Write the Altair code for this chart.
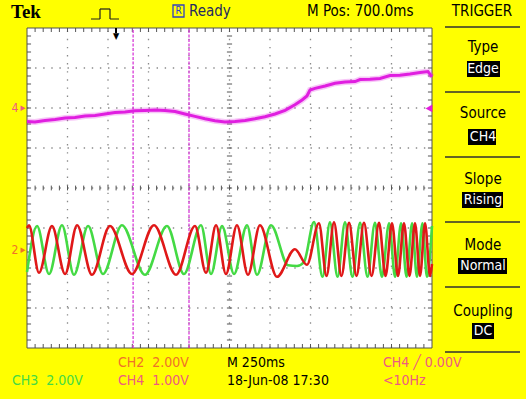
import altair as alt
import pandas as pd

# Horizontal axis: ms from the left edge of the graticule (M 250 ms/div, 10 div)
# Vertical axis: screen divisions (8 div, centre = 0)

# CH4 (magenta) slow signal
ch4_t = [0, 49, 111, 173, 235, 296, 358, 420, 481, 543, 605, 667, 728, 790, 852,
         914, 975, 1037, 1099, 1160, 1222, 1284, 1346, 1407, 1469, 1531, 1593, 1654,
         1698, 1728, 1747, 1778, 1840, 1901, 1963, 2025, 2056, 2117, 2179, 2241, 2302,
         2364, 2426, 2475, 2500]
ch4_v = [1.66, 1.65, 1.69, 1.71, 1.75, 1.76, 1.80, 1.81, 1.85, 1.89, 1.90, 1.93, 1.94,
         1.95, 1.94, 1.91, 1.85, 1.79, 1.73, 1.68, 1.65, 1.66, 1.69, 1.73, 1.78, 1.85,
         1.94, 2.08, 2.20, 2.30, 2.45, 2.49, 2.55, 2.62, 2.65, 2.66, 2.71, 2.72, 2.74,
         2.81, 2.82, 2.85, 2.89, 2.91, 2.78]

# CH2 (red) turning points
ch2_t = [0, 12, 74, 154, 235, 309, 401, 512, 648, 784, 920, 1037, 1105, 1167, 1228,
         1296, 1364, 1438, 1543, 1654, 1728, 1802, 1849, 1895, 1941, 1988, 2034, 2080,
         2127, 2173, 2213, 2253, 2290, 2327, 2361, 2395, 2426, 2457, 2488, 2500]
ch2_v = [-1.00, -0.93, -2.12, -0.95, -2.15, -0.93, -2.17, -0.95, -2.15, -0.93, -2.17,
         -0.95, -2.12, -0.93, -2.15, -0.93, -2.17, -0.93, -2.22, -1.53, -1.92, -0.88,
         -2.20, -0.86, -2.20, -0.87, -2.20, -0.87, -2.20, -0.87, -2.20, -0.88, -2.20,
         -0.88, -2.20, -0.88, -2.20, -0.88, -2.20, -1.90]

# CH3 (green) turning points
ch3_t = [0, 62, 136, 216, 290, 377, 469, 586, 728, 864, 969, 1074, 1136, 1204, 1278,
         1358, 1420, 1506, 1611, 1667, 1710, 1772, 1824, 1870, 1917, 1963, 2009, 2056,
         2102, 2148, 2191, 2235, 2272, 2309, 2343, 2377, 2407, 2441, 2469, 2500]
ch3_v = [-2.10, -0.95, -2.15, -0.93, -2.17, -0.95, -2.15, -0.93, -2.17, -0.95, -2.15,
         -0.93, -2.15, -0.95, -2.15, -0.93, -2.17, -0.93, -1.93, -1.95, -1.85, -0.85,
         -2.22, -0.86, -2.22, -0.86, -2.22, -0.87, -2.22, -0.87, -2.22, -0.88, -2.22,
         -0.88, -2.22, -0.88, -2.22, -0.88, -2.22, -0.95]

# cursor positions (ms)
cursor_t = [655, 1000]

NARROW = "'Liberation Sans Narrow', 'DejaVu Sans Condensed', 'Arial Narrow', sans-serif"
NB = "\u00a0"
YELLOW = "#FFFF00"
MAGENTA = "#E01EE0"
RED = "#E01818"
GREEN = "#44DA44"
ORANGE = "#F07228"
PINK = "#EE5A80"

xs = alt.Scale(domain=[0, 2500], range=[27, 432], nice=False, zero=False)
ys = alt.Scale(domain=[-4, 4], range=[348, 28], nice=False, zero=False)


def X(f):
    return alt.X(f, type="quantitative", scale=xs, axis=None)


def Y(f):
    return alt.Y(f, type="quantitative", scale=ys, axis=None)


def segs(df, color, width=1.0, dash=None):
    kw = dict(color=color, strokeWidth=width)
    if dash:
        kw["strokeDash"] = dash
    return alt.Chart(df).mark_rule(**kw).encode(
        x=X("x0"), x2="x1", y=Y("y0"), y2="y1")


# screen
screen = pd.DataFrame({"x0": [0], "x1": [2500], "y0": [-4], "y1": [4]})
screen_rect = alt.Chart(screen).mark_rect(color="white").encode(
    x=X("x0"), x2="x1", y=Y("y0"), y2="y1")
frame = alt.Chart(screen).mark_rect(filled=False, stroke="#505050", strokeWidth=1).encode(
    x=X("x0"), x2="x1", y=Y("y0"), y2="y1")

# dotted graticule
grid_rows = [(250 * i, 250 * i, -4, 4) for i in range(1, 10)]
grid_rows += [(0, 2500, i, i) for i in range(-3, 4)]
grid = segs(pd.DataFrame(grid_rows, columns=["x0", "x1", "y0", "y1"]),
            "#8a8a8a", 1.3, [1.4, 6.7])

# minor ticks on the border and the centre crosshair
xm = [50 * i for i in range(1, 50)]
ym = [round(-4 + 0.2 * i, 2) for i in range(1, 40)]
rows = []
for t in xm:
    rows.append((t, t, 4, 3.9))
    rows.append((t, t, -4, -3.9))
    rows.append((t, t, -0.06, 0.06))
for v in ym:
    rows.append((0, 25, v, v))
    rows.append((2475, 2500, v, v))
    rows.append((1234, 1266, v, v))
tick_layer = segs(pd.DataFrame(rows, columns=["x0", "x1", "y0", "y1"]), "#555555", 1)

cursors = segs(pd.DataFrame({"x0": cursor_t, "x1": cursor_t, "y0": [-4, -4], "y1": [4, 4]}),
               "#D83CD8", 1.3, [3, 1.5])

# traces
df4 = pd.DataFrame({"t": ch4_t, "v": ch4_v})
df2 = pd.DataFrame({"t": ch2_t, "v": ch2_v})
df3 = pd.DataFrame({"t": ch3_t, "v": ch3_v})

ch4_halo = alt.Chart(df4).mark_line(color=MAGENTA, strokeWidth=6, opacity=0.25).encode(
    x=X("t"), y=Y("v"))
ch4_line = alt.Chart(df4).mark_line(color=MAGENTA, strokeWidth=3).encode(
    x=X("t"), y=Y("v"))
ch3_line = alt.Chart(df3).mark_line(color=GREEN, strokeWidth=2.6, interpolate="monotone").encode(
    x=X("t"), y=Y("v"))
ch2_line = alt.Chart(df2).mark_line(color=RED, strokeWidth=2.6, interpolate="monotone").encode(
    x=X("t"), y=Y("v"))

one = pd.DataFrame({"k": [0]})


def label(text, px, py, color="#000000", size=14, font=NARROW, weight="normal", align="left"):
    return alt.Chart(one).mark_text(
        text=text, color=color, fontSize=size, font=font, fontWeight=weight,
        align=align, baseline="middle").encode(x=alt.value(px), y=alt.value(py))


def box(x0, x1, y0, y1, fill="#000000"):
    return alt.Chart(one).mark_rect(color=fill).encode(
        x=alt.value(x0), x2=alt.value(x1), y=alt.value(y0), y2=alt.value(y1))


def hline(x0, x1, y, color="#303030", width=1.5):
    return alt.Chart(one).mark_rule(color=color, strokeWidth=width).encode(
        x=alt.value(x0), x2=alt.value(x1), y=alt.value(y), y2=alt.value(y))


def vline(x, y0, y1, color="#303030", width=1.5):
    return alt.Chart(one).mark_rule(color=color, strokeWidth=width).encode(
        x=alt.value(x), x2=alt.value(x), y=alt.value(y0), y2=alt.value(y1))


layers = [screen_rect, grid, tick_layer, frame, cursors,
          ch4_halo, ch4_line, ch3_line, ch2_line]

# header
layers += [
    label("Tek", 11, 12, size=19, font="Liberation Serif", weight="bold"),
    hline(91, 100, 19, "#202020", 1), vline(100, 9, 19, "#202020", 1.2),
    hline(100, 110, 9, "#202020", 1.2), vline(110, 9, 19, "#202020", 1.2),
    hline(110, 119, 19, "#202020", 1),
    alt.Chart(one).mark_rect(filled=False, stroke="#3040C0", strokeWidth=1.3).encode(
        x=alt.value(173), x2=alt.value(184), y=alt.value(5), y2=alt.value(17)),
    label("R", 178.5, 11, color="#3040C0", size=10, align="center"),
    label("Ready", 189, 11, color="#252a60", size=15),
    label("M Pos: 700.0ms", 307, 11, size=15),
    label("TRIGGER", 482, 11, size=15, align="center"),
]

# trigger position marker, channel markers
layers += [
    vline(116, 28, 33, "#000000", 2),
    label("▼", 116, 36, size=9, align="center"),
    label("4", 15, 108, color=PINK, size=12, align="center"),
    label("▸", 23, 108, color=PINK, size=11, align="center"),
    label("2", 15, 250, color=ORANGE, size=12, align="center"),
    label("▸", 23, 250, color=ORANGE, size=11, align="center"),
    label("◀", 429, 108, color=MAGENTA, size=10, align="center"),
]

# trigger menu
seps = [27, 92, 157, 222, 287, 352]
layers += [hline(445, 520, y) for y in seps]
menu = [("Type", 47, "Edge", 69, 467, 500),
        ("Source", 113, "CH4", 137, 468, 496),
        ("Slope", 179, "Rising", 200, 462, 503),
        ("Mode", 245, "Normal", 266, 458, 507),
        ("Coupling", 311, "DC", 331, 472, 494)]
for head, hy, val, vy, bx0, bx1 in menu:
    layers += [
        label(head, 483, hy, size=15, align="center"),
        box(bx0, bx1, vy - 8, vy + 8),
        label(val, 483, vy, color="#FFFFFF", size=14, align="center"),
    ]

# status lines
layers += [
    label(f"CH2{NB}{NB}2.00V", 118, 363, color=ORANGE, size=14),
    label("M 250ms", 227, 363, size=14),
    label(f"CH4{NB}╱{NB}0.00V", 383, 363, color=PINK, size=14),
    label(f"CH3{NB}{NB}2.00V", 12, 381, color=GREEN, size=14),
    label(f"CH4{NB}{NB}1.00V", 118, 381, color=PINK, size=14),
    label("18-Jun-08 17:30", 227, 381, size=14),
    label("<10Hz", 383, 381, color=PINK, size=14),
]

chart = alt.layer(*layers).properties(
    width=526, height=399, padding=0,
    autosize=alt.AutoSizeParams(type="none"),
    background=YELLOW,
).configure_view(strokeWidth=0)

chart.save("out.html", embed_options={"renderer": "svg", "actions": False})
